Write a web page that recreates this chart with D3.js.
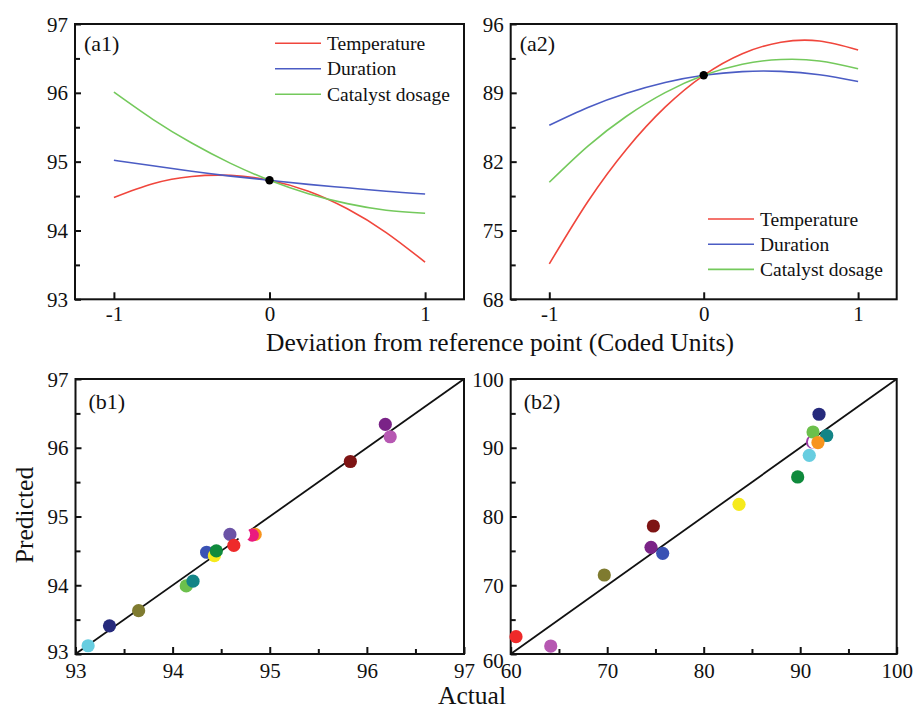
<!DOCTYPE html>
<html>
<head>
<meta charset="utf-8">
<script src="https://cdn.jsdelivr.net/npm/d3@7"></script>
<style>
  html, body { margin: 0; padding: 0; background: #fff; }
  svg { display: block; }
  svg text { font-family: "Liberation Serif", "Times New Roman", serif; }
  .tick line { stroke: #111; stroke-width: 2; }
</style>
</head>
<body>
<svg id="chart" width="916" height="709"></svg>
<script>
// ---- data ----
// coded factor levels at which the response curves are sampled
const codedLevels = [-1, -0.75, -0.5, -0.25, 0, 0.25, 0.5, 0.75, 1];
const factorNames = ["Temperature", "Duration", "Catalyst dosage"];
const factorColors = ["#f0463c", "#4b5cc4", "#74c95c"];

// perturbation plot (a1)
const a1Temperature = [94.48, 94.68, 94.785, 94.80, 94.73, 94.57, 94.315, 93.97, 93.54];
const a1Duration    = [95.02, 94.94, 94.86, 94.79, 94.73, 94.67, 94.62, 94.57, 94.53];
const a1Catalyst    = [96.01, 95.615, 95.27, 94.975, 94.73, 94.535, 94.39, 94.295, 94.25];
const a1Reference = 94.73;
const a1Ticks = [93, 94, 95, 96, 97];
const a1MinorTicks = [93.5, 94.5, 95.5, 96.5];

// perturbation plot (a2)
const a2Temperature = [71.6, 77.95, 83.27, 87.54, 90.78, 92.98, 94.15, 94.27, 93.36];
const a2Duration    = [85.7, 87.51, 88.95, 90.05, 90.78, 91.16, 91.18, 90.84, 90.15];
const a2Catalyst    = [79.9, 83.58, 86.62, 89.02, 90.78, 91.91, 92.39, 92.24, 91.45];
const a2Reference = 90.78;
const a2Ticks = [68, 75, 82, 89, 96];
const a2MinorTicks = [71.5, 78.5, 85.5, 92.5];

const codedTicks = [-1, 0, 1];

// predicted vs actual (b1)
const b1Actual    = [93.13, 93.35, 93.65, 94.14, 94.21, 94.35, 94.43, 94.45, 94.59, 94.63, 94.85, 94.82, 94.73, 95.83, 96.24, 96.19];
const b1Predicted = [93.12, 93.41, 93.63, 93.99, 94.06, 94.48, 94.43, 94.50, 94.74, 94.58, 94.74, 94.73, 94.74, 95.80, 96.16, 96.34];
const b1Colors = ["#67cde0", "#262a7c", "#7f7b30", "#6cc04c", "#138486", "#3a52b4", "#f6ea1c", "#0f8a3c",
                  "#6b53a6", "#ee2a2a", "#f7941d", "#ea1a7f", "#ffffff", "#7e1414", "#b658b2", "#7a2387"];
const b1Ticks = [93, 94, 95, 96, 97];
const b1MinorTicks = [93.5, 94.5, 95.5, 96.5];

// predicted vs actual (b2)
const b2Actual    = [60.55, 64.15, 69.70, 74.78, 74.54, 75.75, 83.66, 89.74, 90.94, 92.75, 91.27, 91.48, 91.33, 91.84, 91.95];
const b2Predicted = [62.52, 61.16, 71.49, 78.62, 75.52, 74.64, 81.77, 85.75, 88.90, 91.78, 90.84, 90.84, 92.29, 90.76, 94.87];
const b2Colors = ["#ee2a2a", "#b658b2", "#7f7b30", "#7e1414", "#7a2387", "#3a52b4", "#f6ea1c", "#0f8a3c",
                  "#67cde0", "#138486", "#9b3aa6", "#ffffff", "#6cc04c", "#f7941d", "#262a7c"];
const b2Ticks = [60, 70, 80, 90, 100];
const b2MinorTicks = [65, 75, 85, 95];

// ---- drawing ----
const serif = '"Liberation Serif", "Times New Roman", serif';
const svg = d3.select("#chart");

function frame(g, x0, y0, x1, y1) {
  g.append("rect")
    .attr("x", x0).attr("y", y0)
    .attr("width", x1 - x0).attr("height", y1 - y0)
    .attr("fill", "none").attr("stroke", "#111").attr("stroke-width", 2);
}

function styleAxis(sel) {
  sel.attr("font-family", null).attr("font-size", null);
  sel.selectAll(".domain").remove();
  sel.selectAll(".tick text")
    .style("font-family", serif)
    .style("font-size", "21px")
    .attr("fill", "#111");
}

function axes(g, x, y, box, xTicks, xMinor, yTicks, yMinor, xFmt, yFmt, xPad) {
  const [x0, y0, x1, y1] = box;
  const xa = g.append("g").attr("transform", `translate(0,${y1})`)
    .call(d3.axisBottom(x).tickValues(xTicks).tickSize(-7).tickSizeOuter(0).tickPadding(xPad).tickFormat(xFmt))
    .call(styleAxis);
  const ya = g.append("g").attr("transform", `translate(${x0},0)`)
    .call(d3.axisLeft(y).tickValues(yTicks).tickSize(-6).tickSizeOuter(0).tickPadding(7).tickFormat(yFmt))
    .call(styleAxis);
  if (xMinor) {
    g.append("g").attr("transform", `translate(0,${y1})`)
      .call(d3.axisBottom(x).tickValues(xMinor).tickSize(-5).tickSizeOuter(0).tickFormat(""))
      .call(styleAxis);
  }
  if (yMinor) {
    g.append("g").attr("transform", `translate(${x0},0)`)
      .call(d3.axisLeft(y).tickValues(yMinor).tickSize(-5).tickSizeOuter(0).tickFormat(""))
      .call(styleAxis);
  }
  ya.selectAll(".tick text").attr("dy", "0.34em");
  frame(g, x0, y0, x1, y1);
  return { xa, ya };
}

const codedFmt = d => (d < 0 ? "-" + Math.abs(d) : String(d));

function perturbation(box, yDomain, series, ref, yTicks, yMinor, label, legendBox) {
  const [x0, y0, x1, y1] = box;
  const g = svg.append("g");
  const x = d3.scaleLinear().domain([-1.25, 1.25]).range([x0, x1]);
  const y = d3.scaleLinear().domain(yDomain).range([y1, y0]);
  axes(g, x, y, box, codedTicks, null, yTicks, yMinor, codedFmt, d3.format("d"), 7);

  const line = d3.line()
    .x((d, i) => x(codedLevels[i]))
    .y(d => y(d))
    .curve(d3.curveNatural);
  series.forEach((s, k) => {
    g.append("path").attr("d", line(s))
      .attr("fill", "none").attr("stroke", factorColors[k]).attr("stroke-width", 1.6);
  });
  g.append("circle").attr("cx", x(0)).attr("cy", y(ref)).attr("r", 4.2).attr("fill", "#000");

  g.append("text").attr("x", x0 + 9).attr("y", y0 + 27)
    .attr("font-size", 22).attr("fill", "#111").text(label);

  const [lx, ly, gap] = legendBox;
  factorNames.forEach((name, k) => {
    const yy = ly + k * gap;
    g.append("line").attr("x1", lx).attr("x2", lx + 46).attr("y1", yy).attr("y2", yy)
      .attr("stroke", factorColors[k]).attr("stroke-width", 1.6);
    g.append("text").attr("x", lx + 52).attr("y", yy).attr("dy", "0.34em")
      .attr("font-size", 19.5).attr("fill", "#111").text(name);
  });
}

function parity(box, domain, actual, predicted, colors, ticks, minor, label, lowestLabelShift) {
  const [x0, y0, x1, y1] = box;
  const g = svg.append("g");
  const x = d3.scaleLinear().domain(domain).range([x0, x1]);
  const y = d3.scaleLinear().domain(domain).range([y1, y0]);
  const { ya } = axes(g, x, y, box, ticks, minor, ticks, minor, d3.format("d"), d3.format("d"), 9);
  // nudge the lowest y label so it clears the x label at the shared corner
  ya.selectAll(".tick").filter(d => d === domain[0]).select("text").attr("y", lowestLabelShift);
  g.append("line")
    .attr("x1", x(domain[0])).attr("y1", y(domain[0]))
    .attr("x2", x(domain[1])).attr("y2", y(domain[1]))
    .attr("stroke", "#111").attr("stroke-width", 1.8);
  g.selectAll("circle.pt").data(actual).join("circle")
    .attr("class", "pt")
    .attr("cx", d => x(d))
    .attr("cy", (d, i) => y(predicted[i]))
    .attr("r", 6.6)
    .attr("fill", (d, i) => colors[i]);
  g.append("text").attr("x", x0 + 13).attr("y", y0 + 30)
    .attr("font-size", 22).attr("fill", "#111").text(label);
}

perturbation([75, 24, 464, 299.3], [93, 97], [a1Temperature, a1Duration, a1Catalyst], a1Reference,
  a1Ticks, a1MinorTicks, "(a1)", [275, 43.3, 25.5]);
perturbation([510.7, 24, 896.7, 299.3], [68, 96], [a2Temperature, a2Duration, a2Catalyst], a2Reference,
  a2Ticks, a2MinorTicks, "(a2)", [708, 219, 25.2]);

parity([75.5, 379, 464, 654], [93, 97], b1Actual, b1Predicted, b1Colors, b1Ticks, b1MinorTicks, "(b1)", -3);
parity([510.7, 379, 896.7, 654], [60, 100], b2Actual, b2Predicted, b2Colors, b2Ticks, b2MinorTicks, "(b2)", 6);

// shared axis titles
svg.append("text").attr("x", 500).attr("y", 351).attr("text-anchor", "middle")
  .attr("font-size", 25.5).attr("fill", "#111").text("Deviation from reference point (Coded Units)");
svg.append("text").attr("x", 472).attr("y", 704).attr("text-anchor", "middle")
  .attr("font-size", 25.5).attr("fill", "#111").text("Actual");
svg.append("text").attr("transform", "translate(33,515) rotate(-90)").attr("text-anchor", "middle")
  .attr("font-size", 25.5).attr("fill", "#111").text("Predicted");
</script>
</body>
</html>
